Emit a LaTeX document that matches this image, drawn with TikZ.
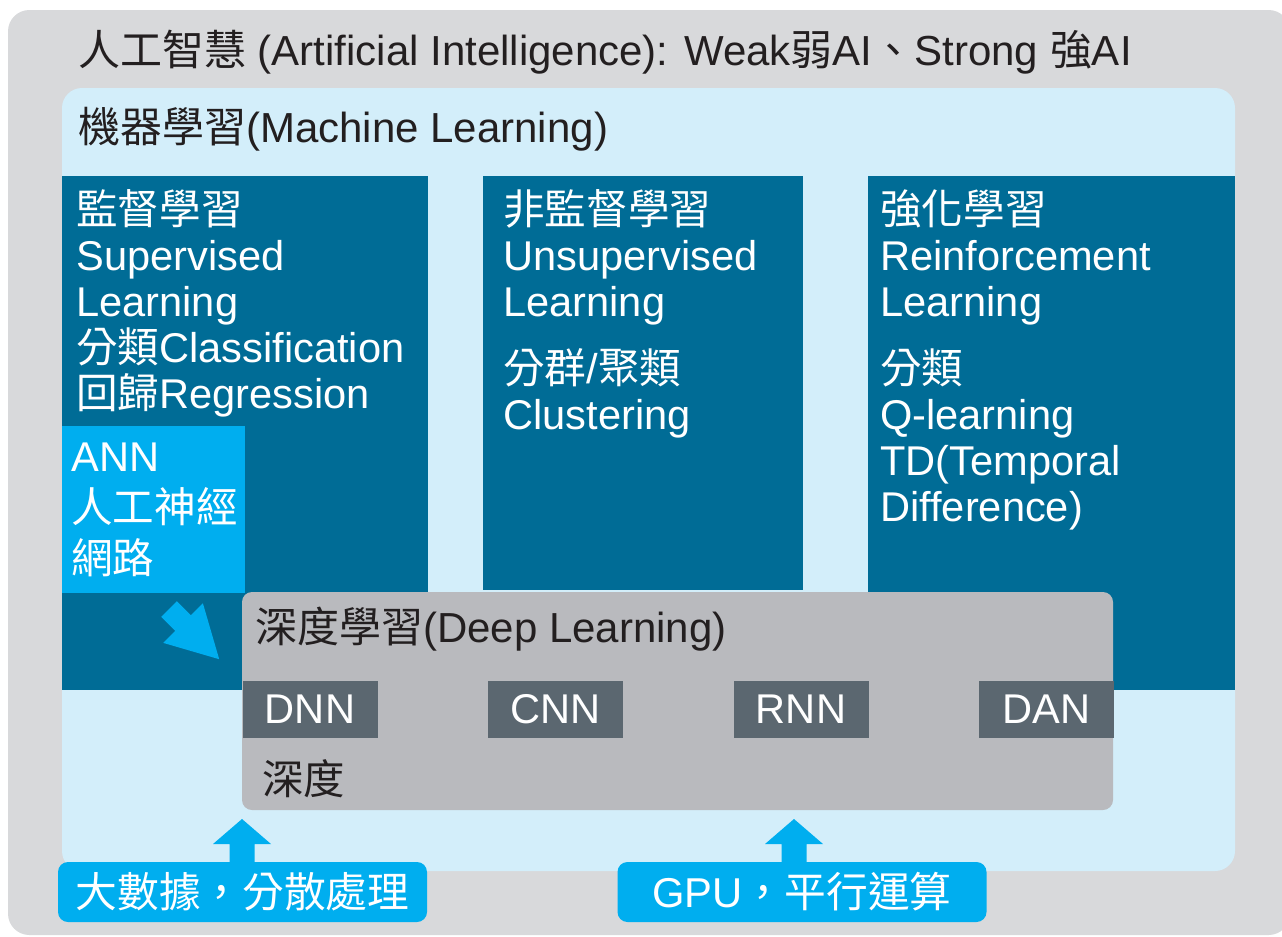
\documentclass[tikz,border=0pt]{standalone}
\usepackage{fontspec}
\setmainfont{Liberation Sans}
\newfontfamily\cjk{Noto Sans CJK TC}
\usetikzlibrary{positioning}

\definecolor{bggray}{RGB}{216,217,219}
\definecolor{mlblue}{RGB}{211,238,250}
\definecolor{colblue}{RGB}{0,108,150}
\definecolor{annblue}{RGB}{0,174,239}
\definecolor{dlgray}{RGB}{185,186,190}
\definecolor{netgray}{RGB}{91,103,112}
\definecolor{darktext}{RGB}{35,31,32}

\tikzset{
	headtext/.style={anchor=base west, inner sep=0pt, text=darktext},
	coltext/.style={anchor=base west, align=left, inner sep=0pt, text=white,
		font=\fontsize{31.2pt}{34.5pt}\selectfont},
	netbox/.style={fill=netgray, text=white, inner sep=0pt,
		minimum width=101.25pt, minimum height=42.75pt,
		font=\fontsize{31.2pt}{34.5pt}\selectfont},
	basebox/.style={fill=annblue, text=white, rounded corners=7.5pt, inner sep=0pt,
		minimum width=276.75pt, minimum height=45pt,
		font=\fontsize{31.3pt}{34.5pt}\selectfont}
}

\begin{document}
\begin{tikzpicture}[x=0.75pt,y=-0.75pt]
		\useasboundingbox (0,0) rectangle (1282,936);
		% Draw the nested areas.
		\fill[bggray, rounded corners=16pt] (8,10) rectangle (1290,935);
		\fill[mlblue, rounded corners=15pt] (62,88) rectangle (1235,871);
		\fill[colblue] (62,176) rectangle (428,690);
		\fill[colblue] (483,176) rectangle (803,590);
		\fill[colblue] (868,176) rectangle (1235,690);
		\fill[annblue] (62,426) rectangle (245,593);
		
		% Arrow from ANN to deep learning.
		\fill[annblue] (176.8,601.2) -- (190.9,615.3) -- (202.9,603.3) -- (219.2,659.2)
			-- (163.3,642.9) -- (175.3,630.9) -- (161.2,616.8) -- cycle;
		
		\fill[dlgray, rounded corners=7.5pt] (242,592) rectangle (1113,810);
		
		\node[headtext, font=\fontsize{31.5pt}{34.5pt}\selectfont] (ai) at (78,65)
			{{\cjk 人工智慧} (Artificial Intelligence): Weak{\cjk 弱}AI{\cjk 、}Strong {\cjk 強}AI};
		\node[headtext, font=\fontsize{31.5pt}{34.5pt}\selectfont] (ml) at (78,142)
			{{\cjk 機器學習}(Machine Learning)};
		
		% Multi-line texts sit on their last baseline.
		\node[coltext] (sl) at (76,408)
			{{\cjk 監督學習}\\Supervised\\Learning\\{\cjk 分類}Classification\\{\cjk 回歸}Regression};
		\node[coltext] (ul) at (503,429)
			{{\cjk 非監督學習}\\Unsupervised\\Learning\\[15.75pt]{\cjk 分群}/{\cjk 聚類}\\Clustering};
		\node[coltext] (rl) at (880,521)
			{{\cjk 強化學習}\\Reinforcement\\Learning\\[15.75pt]{\cjk 分類}\\Q-learning\\TD(Temporal\\Difference)};
		\node[coltext, font=\fontsize{31.2pt}{38.25pt}\selectfont] (ann) at (71,573)
			{ANN\\{\cjk 人工神經}\\{\cjk 網路}};
		
		\node[headtext, font=\fontsize{31.5pt}{34.5pt}\selectfont] (dl) at (255,642)
			{{\cjk 深度學習}(Deep Learning)};
		\node[headtext, font=\fontsize{31pt}{34.5pt}\cjk] (depth) at (262,794) {深度};
		
		\node[netbox] (dnn) at (310,709.5) {DNN};
		\node[netbox] (cnn) at (555.5,709.5) {CNN};
		\node[netbox] (rnn) at (801,709.5) {RNN};
		\node[netbox] (dan) at (1046.5,709.5) {DAN};
		
		% Arrows from the bottom boxes.
		\fill[annblue] (229.5,866) -- (229.5,844) -- (213,844) -- (242,819)
			-- (271,844) -- (254.5,844) -- (254.5,866) -- cycle;
		\fill[annblue] (781.5,866) -- (781.5,844) -- (765,844) -- (794,819)
			-- (823,844) -- (806.5,844) -- (806.5,866) -- cycle;
		
		\node[basebox] (data) at (242.5,892) {\cjk 大數據，分散處理};
		\node[basebox] (gpu) at (802,892) {GPU{\cjk ，平行運算}};
	\end{tikzpicture}
\end{document}
